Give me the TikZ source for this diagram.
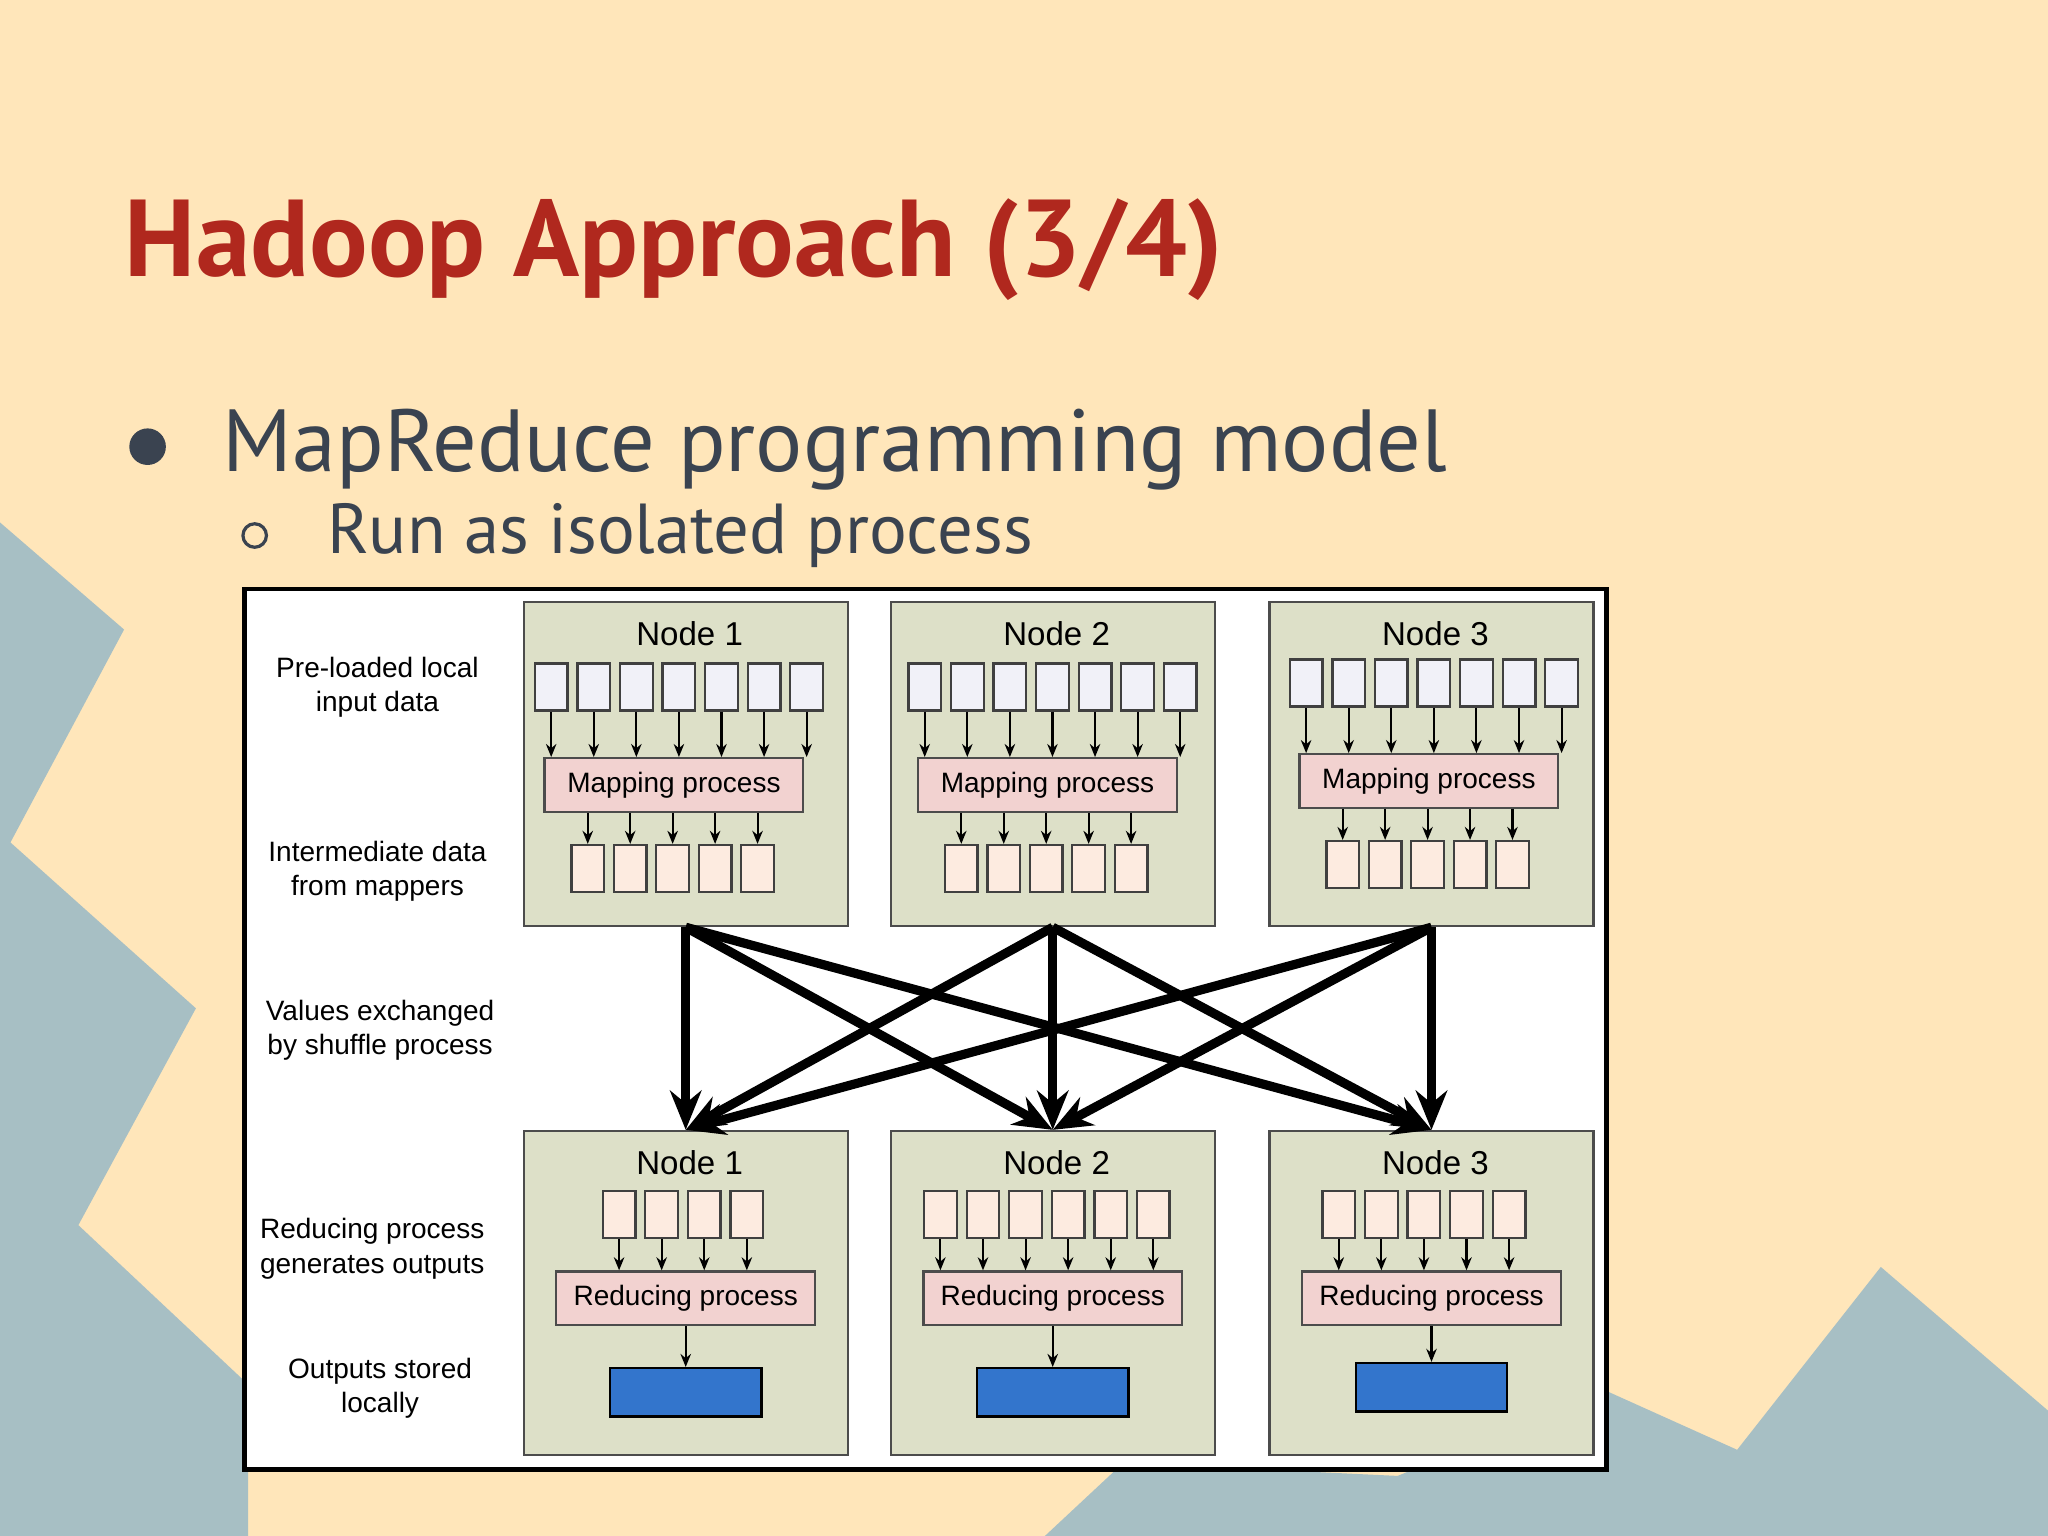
\documentclass[tikz,border=0pt]{standalone}
\usepackage{fontspec}
\setmainfont{Liberation Sans}
\newfontfamily\slidefont{PT Sans}
\usetikzlibrary{arrows.meta}
\definecolor{cream}{HTML}{FFE6BA}
\definecolor{slate}{HTML}{A7BFC4}
\definecolor{titlered}{HTML}{B0281E}
\definecolor{ink}{HTML}{3A4350}
\definecolor{nodegreen}{HTML}{DDE0C8}
\definecolor{inbox}{HTML}{F1F1F8}
\definecolor{midbox}{HTML}{FDEBE0}
\definecolor{procbox}{HTML}{F2D2D0}
\definecolor{outblue}{HTML}{3375CC}
\tikzset{
  host/.style={draw=black!70, fill=nodegreen, minimum width=2.48cm, minimum height=2.48cm, inner sep=0, line width=0.5pt},
  hosttitle/.style={font=\fontsize{7.2}{8}\selectfont, inner sep=0},
  inb/.style={draw=black!75, fill=inbox, minimum width=0.25cm, minimum height=0.36cm, inner sep=0, line width=0.5pt},
  midb/.style={draw=black!75, fill=midbox, minimum width=0.25cm, minimum height=0.36cm, inner sep=0, line width=0.5pt},
  proc/.style={draw=black!70, fill=procbox, minimum width=1.98cm, minimum height=0.41cm, inner sep=0, font=\fontsize{6.1}{7}\selectfont, line width=0.5pt},
  outb/.style={draw=black, fill=outblue, minimum width=1.16cm, minimum height=0.37cm, inner sep=0, line width=0.5pt},
  small/.style={-{Stealth[length=0.1cm,width=0.08cm]}, line width=0.45pt},
  shuffle/.style={-{Stealth[length=0.3cm,width=0.24cm]}, line width=2pt},
  side/.style={align=center, font=\fontsize{6.1}{7.5}\selectfont, inner sep=0}
}
\begin{document}
\begin{tikzpicture}[x=0.01cm,y=-0.01cm]
\fill[cream] (0,0) rectangle (1568,1176);
\useasboundingbox (0,0) rectangle (1568,1176);
% background shapes
\fill[slate] (0,400) -- (95,482) -- (8,645) -- (150,772) -- (60,938) -- (190,1060) -- (190,1176) -- (0,1176) -- cycle;
\fill[slate] (800,1176) -- (860,1120) -- (1070,1130) -- (1230,1065) -- (1330,1110) -- (1440,970) -- (1568,1080) -- (1568,1176) -- cycle;
% title and bullets
\node[anchor=base west, text=titlered, font=\slidefont\bfseries\fontsize{23.8}{28}\selectfont, inner sep=0] (title) at (95,212) {Hadoop Approach (3/4)};
\node[anchor=base west, text=ink, font=\slidefont\fontsize{19.2}{23}\selectfont, inner sep=0] (b1) at (170,361) {MapReduce programming model};
\fill[ink] (113,342) circle (14);
\node[anchor=base west, text=ink, font=\slidefont\fontsize{15.4}{18}\selectfont, inner sep=0] (b2) at (250,424) {Run as isolated process};
\draw[ink, line width=0.7pt] (195,410) circle (9);
% frame
\draw[fill=white, line width=1pt] (187,451) rectangle (1230,1125);
% side labels
\node[side] (l1) at (289,526) {Pre-loaded local\\input data};
\node[side] (l2) at (289,667) {Intermediate data\\from mappers};
\node[side] (l3) at (291,789) {Values exchanged\\by shuffle process};
\node[side] (l4) at (285,956) {Reducing process\\generates outputs};
\node[side] (l5) at (291,1063) {Outputs stored\\locally};
% hosts: number, x-center, vertical shift of inner parts, shift of mapper
\foreach \i/\cx/\dy/\mx in {1/525/0/-9, 2/806/0/-4, 3/1096/-3/-2}{
  \node[host] (t\i) at (\cx,585) {};
  \node[hosttitle] (tt\i) at (\cx+3,485) {Node \i};
  \node[proc] (map\i) at (\cx+\mx,601+\dy) {Mapping process};
  \foreach \k in {1,...,7}{
    \node[inb] (in\i\k) at ({\cx+\mx-94+(\k-1)*32.6},526+\dy) {};
    \draw[small] (in\i\k.south) -- (in\i\k.south |- map\i.north);
  }
  \foreach \k in {1,...,5}{
    \node[midb] (mid\i\k) at ({\cx+\mx-66+(\k-1)*32.5},665+\dy) {};
    \draw[small] (mid\i\k.north |- map\i.south) -- (mid\i\k.north);
  }
  \node[host] (r\i) at (\cx,990) {};
  \node[hosttitle] (rt\i) at (\cx+3,890) {Node \i};
  \node[proc] (red\i) at (\cx,994) {Reducing process};
  \node[outb] (out\i) at (\cx,1066+1.3*\dy) {};
  \draw[small] (red\i) -- (out\i);
}
% reducer inputs
\foreach \i/\n/\sx in {1/4/474, 2/6/720, 3/5/1025}{
  \foreach \k in {1,...,\n}{
    \node[midb] (ri\i\k) at ({\sx+(\k-1)*32.6},930) {};
    \draw[small] (ri\i\k.south) -- (ri\i\k.south |- red\i.north);
  }
}
% shuffle
\foreach \a in {1,2,3}{
  \foreach \b in {1,2,3}{
    \draw[shuffle] (t\a.south) -- (r\b.north);
  }
}
\end{tikzpicture}
\end{document}
